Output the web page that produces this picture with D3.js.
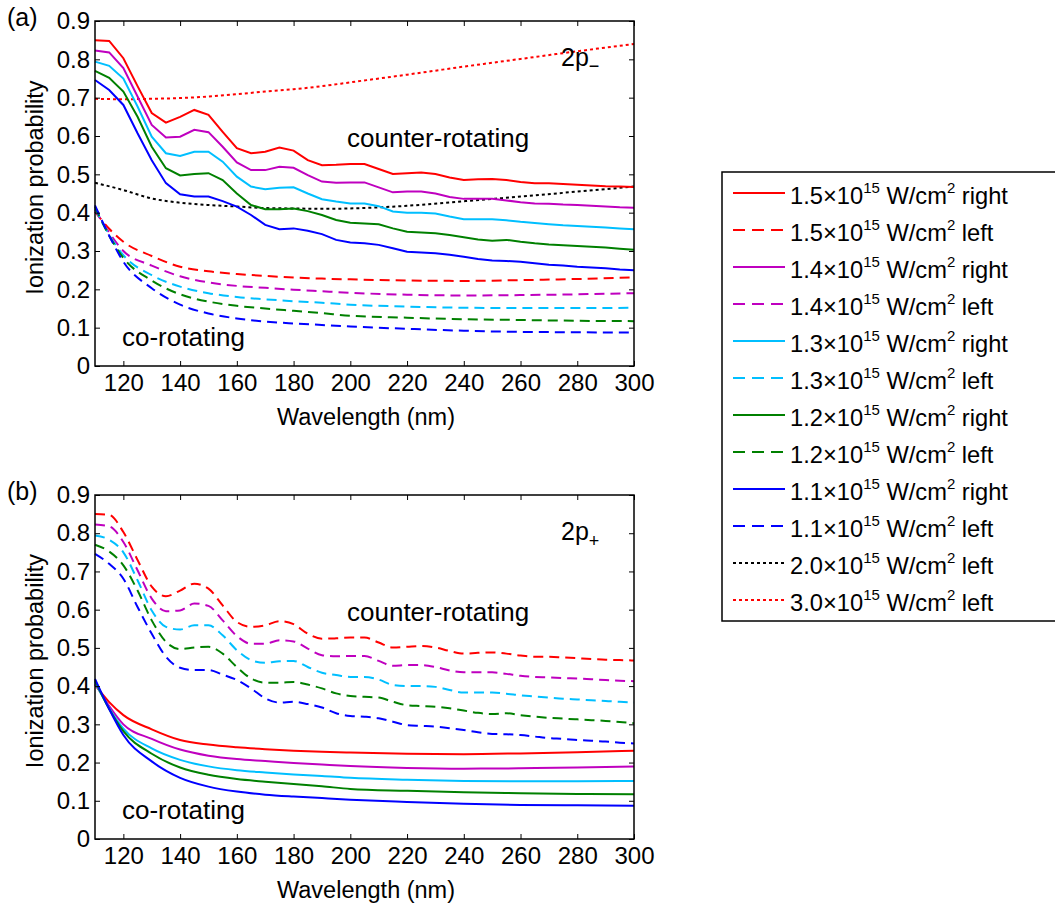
<!DOCTYPE html>
<html>
<head>
<meta charset="utf-8">
<script src="https://cdn.jsdelivr.net/npm/d3@7"></script>
<style>
  body { margin: 0; background: #fff; }
  text { font-family: "Liberation Sans", Arial, Helvetica, sans-serif; }
</style>
</head>
<body>
<script>
// wavelengths (nm)
const wlRight = [110,115,120,125,130,135,140,145,150,155,160,165,170,175,180,185,190,195,200,205,
                 210,215,220,225,230,235,240,245,250,255,260,265,270,275,280,285,290,295,300];
const wlLeft = [110,115,120,130,140,150,160,170,180,190,200,220,240,260,280,300];
const wlDot = [110,120,130,140,150,160,170,180,190,200,220,240,260,280,300];

// "right" (counter-rotating in 2p-, same values appear dashed in 2p+)
const right15 = [.850,.848,.803,.730,.660,.635,.650,.668,.655,.611,.568,.555,.559,.570,.562,.537,.524,.525,.527,.527,
                 .514,.501,.503,.505,.501,.492,.485,.487,.488,.485,.480,.477,.477,.475,.473,.471,.469,.468,.467];
const right14 = [.823,.818,.777,.703,.629,.596,.598,.616,.610,.572,.531,.511,.511,.520,.517,.498,.481,.478,.479,.479,
                 .466,.453,.455,.455,.450,.441,.436,.436,.436,.432,.427,.424,.423,.421,.420,.418,.416,.414,.413];
const right13 = [.794,.783,.750,.677,.598,.555,.548,.559,.559,.533,.494,.468,.461,.465,.466,.450,.435,.429,.424,.424,
                 .417,.403,.400,.400,.398,.390,.383,.383,.383,.380,.376,.373,.370,.367,.365,.363,.361,.359,.357];
const right12 = [.770,.752,.716,.650,.572,.516,.497,.501,.503,.485,.450,.420,.409,.409,.411,.404,.394,.381,.374,.372,
                 .370,.359,.350,.348,.346,.342,.336,.330,.327,.329,.324,.320,.317,.315,.313,.311,.309,.306,.303];
const right11 = [.746,.720,.681,.607,.537,.477,.448,.442,.442,.430,.416,.394,.368,.357,.359,.353,.344,.329,.322,.320,
                 .316,.307,.298,.296,.294,.290,.285,.279,.275,.274,.272,.268,.264,.262,.259,.257,.255,.252,.250];

// "left" (co-rotating in 2p-, same values appear solid in 2p+)
const left15 = [.403,.358,.324,.287,.259,.247,.240,.235,.231,.228,.226,.223,.222,.224,.227,.231];
const left14 = [.407,.348,.300,.262,.234,.218,.209,.204,.199,.195,.191,.186,.184,.185,.187,.190];
const left13 = [.411,.342,.289,.237,.207,.190,.180,.174,.169,.165,.160,.155,.152,.151,.151,.152];
const left12 = [.415,.340,.282,.223,.187,.168,.157,.150,.144,.138,.131,.126,.122,.120,.118,.117];
const left11 = [.419,.340,.272,.203,.160,.137,.124,.116,.111,.107,.103,.097,.092,.089,.088,.087];

const left20 = [.478,.459,.437,.426,.420,.416,.412,.411,.410,.411,.418,.430,.442,.455,.468];
const left30 = [.697,.696,.697,.699,.703,.709,.716,.722,.730,.740,.760,.781,.801,.821,.840];

const xTicks = [120,140,160,180,200,220,240,260,280,300];
const yTicks = [0,0.1,0.2,0.3,0.4,0.5,0.6,0.7,0.8,0.9];
const intensities = ["1.5","1.4","1.3","1.2","1.1"];
const colors = ["#ff0000","#bf00bf","#00bfff","#008000","#0000ff"];

const rightSets = [right15, right14, right13, right12, right11];
const leftSets = [left15, left14, left13, left12, left11];

const FONT = 23.5;
const TICKFONT = 24;
const NOTEFONT = 26;
const DASH = "10,6";
const DOT = "3,3";

const svg = d3.select("body").append("svg")
    .attr("width", 1055)
    .attr("height", 907);

const x = d3.scaleLinear().domain([110, 300]).range([95, 634]);

function drawPanel(top, bottom, tag, orbital, sub, subDy, rightDash, rightCurve, extras) {
    const y = d3.scaleLinear().domain([0, 0.9]).range([bottom, top]);
    const g = svg.append("g");

    const line = (xs, curve) => d3.line()
        .x((d, i) => x(xs[i]))
        .y(d => y(d))
        .curve(curve);

    extras.forEach(e => {
        g.append("path")
            .datum(e.values)
            .attr("d", line(e.xs, d3.curveMonotoneX))
            .attr("fill", "none")
            .attr("stroke", e.color)
            .attr("stroke-width", 2)
            .attr("stroke-dasharray", DOT);
    });

    leftSets.forEach((vals, i) => {
        g.append("path")
            .datum(vals)
            .attr("d", line(wlLeft, d3.curveMonotoneX))
            .attr("fill", "none")
            .attr("stroke", colors[i])
            .attr("stroke-width", 2)
            .attr("stroke-dasharray", rightDash ? null : DASH);
    });

    rightSets.forEach((vals, i) => {
        g.append("path")
            .datum(vals)
            .attr("d", line(wlRight, rightCurve))
            .attr("fill", "none")
            .attr("stroke", colors[i])
            .attr("stroke-width", 2)
            .attr("stroke-dasharray", rightDash ? DASH : null);
    });

    // axes, ticks pointing inward like matlab
    const styleAxis = sel => {
        sel.attr("font-size", TICKFONT).attr("font-family", null);
        sel.select(".domain").remove();
        sel.selectAll(".tick line").attr("stroke", "#000");
        sel.selectAll(".tick text").attr("fill", "#000");
    };

    g.append("g")
        .attr("transform", `translate(0,${bottom})`)
        .call(d3.axisBottom(x).tickValues(xTicks).tickSizeInner(-5).tickSizeOuter(0).tickPadding(8))
        .call(styleAxis);
    g.append("g")
        .attr("transform", `translate(0,${top})`)
        .call(d3.axisTop(x).tickValues(xTicks).tickSizeInner(-5).tickSizeOuter(0).tickFormat(""))
        .call(styleAxis);
    g.append("g")
        .attr("transform", `translate(95,0)`)
        .call(d3.axisLeft(y).tickValues(yTicks).tickSizeInner(-5).tickSizeOuter(0).tickPadding(5)
            .tickFormat(d => d === 0 ? "0" : d3.format(".1f")(d)))
        .call(styleAxis);
    g.append("g")
        .attr("transform", `translate(634,0)`)
        .call(d3.axisRight(y).tickValues(yTicks).tickSizeInner(-5).tickSizeOuter(0).tickFormat(""))
        .call(styleAxis);

    g.append("rect")
        .attr("x", 95).attr("y", top)
        .attr("width", 634 - 95).attr("height", bottom - top)
        .attr("fill", "none")
        .attr("stroke", "#000")
        .attr("stroke-width", 1.5);

    g.append("text")
        .attr("x", 366)
        .attr("y", bottom + 59)
        .attr("text-anchor", "middle")
        .attr("font-size", FONT)
        .text("Wavelength (nm)");

    g.append("text")
        .attr("transform", `translate(43,${(top + bottom) / 2 - 6}) rotate(-90)`)
        .attr("text-anchor", "middle")
        .attr("font-size", FONT)
        .text("Ionization probability");

    g.append("text")
        .attr("x", 7).attr("y", top + 5)
        .attr("font-size", 25)
        .text(tag);

    const lab = g.append("text")
        .attr("x", 561).attr("y", top + 45)
        .attr("font-size", 25);
    lab.append("tspan").text(orbital);
    lab.append("tspan").attr("font-size", 18).attr("dy", subDy).text(sub);

    g.append("text")
        .attr("x", 347).attr("y", top + 126)
        .attr("font-size", NOTEFONT)
        .text("counter-rotating");

    g.append("text")
        .attr("x", 122).attr("y", bottom - 20)
        .attr("font-size", NOTEFONT)
        .text("co-rotating");
}

drawPanel(21, 366, "(a)", "2p", "\u2212", 6, false, d3.curveLinear, [
    {xs: wlDot, values: left20, color: "#000"},
    {xs: wlDot, values: left30, color: "#ff0000"}
]);
drawPanel(495, 839, "(b)", "2p", "+", 7, true, d3.curveMonotoneX, []);

// legend
const legendItems = [];
intensities.forEach((s, i) => {
    legendItems.push({inten: s, pol: "right", color: colors[i], dash: null});
    legendItems.push({inten: s, pol: "left", color: colors[i], dash: "12,7"});
});
legendItems.push({inten: "2.0", pol: "left", color: "#000", dash: DOT});
legendItems.push({inten: "3.0", pol: "left", color: "#ff0000", dash: DOT});

const leg = svg.append("g");
leg.append("rect")
    .attr("x", 722).attr("y", 172)
    .attr("width", 334).attr("height", 449)
    .attr("fill", "#fff")
    .attr("stroke", "#000")
    .attr("stroke-width", 1.5);

legendItems.forEach((d, i) => {
    const yy = 193 + i * 37;
    leg.append("line")
        .attr("x1", 733).attr("x2", 785)
        .attr("y1", yy).attr("y2", yy)
        .attr("stroke", d.color)
        .attr("stroke-width", 2)
        .attr("stroke-dasharray", d.dash);
    const t = leg.append("text")
        .attr("x", 790).attr("y", yy + 11)
        .attr("font-size", 23.7);
    t.append("tspan").text(d.inten + "×10");
    t.append("tspan").attr("font-size", 15).attr("dy", -11).text("15");
    t.append("tspan").attr("dy", 11).text(" W/cm");
    t.append("tspan").attr("font-size", 15).attr("dy", -11).text("2");
    t.append("tspan").attr("dy", 11).text(" " + d.pol);
});
</script>
</body>
</html>
